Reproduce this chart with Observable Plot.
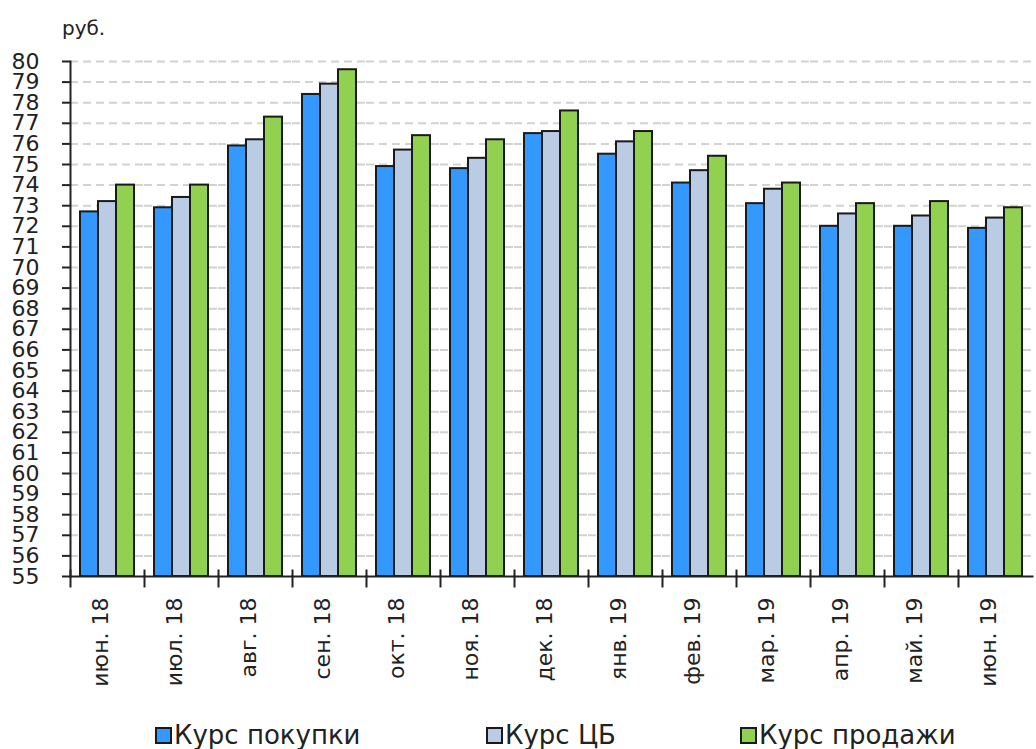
<!DOCTYPE html>
<html>
<head>
<meta charset="utf-8">
<script src="https://cdn.jsdelivr.net/npm/d3@7"></script>
<script src="https://cdn.jsdelivr.net/npm/@observablehq/plot@0.6"></script>
<style>
  html, body { margin: 0; padding: 0; background: #fff; }
  body { width: 1036px; height: 749px; overflow: hidden; font-family: "DejaVu Sans", sans-serif; color: #222; }
  #unit { height: 40px; box-sizing: border-box; padding: 17px 0 0 62px; font-size: 20px; line-height: 22px; }
  #chart svg { display: block; }
  #legend { height: 49px; box-sizing: border-box; padding-top: 20px; display: flex; font-size: 26px; line-height: 30px; }
  .item { display: flex; align-items: center; }
  .sw { width: 13px; height: 13px; border: 2px solid #1a1a1a; margin-right: 2px; }
</style>
</head>
<body>
<div id="unit">руб.</div>
<div id="chart"></div>
<div id="legend"></div>
<script>
const months = ["июн. 18", "июл. 18", "авг. 18", "сен. 18", "окт. 18", "ноя. 18", "дек. 18", "янв. 19", "фев. 19", "мар. 19", "апр. 19", "май. 19", "июн. 19"];
const seriesNames = ["Курс покупки", "Курс ЦБ", "Курс продажи"];
const buyRate  = [72.7, 72.9, 75.9, 78.4, 74.9, 74.8, 76.5, 75.5, 74.1, 73.1, 72.0, 72.0, 71.9];
const cbRate   = [73.2, 73.4, 76.2, 78.9, 75.7, 75.3, 76.6, 76.1, 74.7, 73.8, 72.6, 72.5, 72.4];
const sellRate = [74.0, 74.0, 77.3, 79.6, 76.4, 76.2, 77.6, 76.6, 75.4, 74.1, 73.1, 73.2, 72.9];
const yTicks = d3.range(55, 81);
const colors = ["#3399ff", "#b9cce4", "#92d050"];

const seriesValues = [buyRate, cbRate, sellRate];
const data = months.flatMap((m, i) => seriesNames.map((s, j) => ({month: m, series: s, value: seriesValues[j][i]})));

const vTick = { draw(context) { context.moveTo(0, -7); context.lineTo(0, 11); } };

const chart = Plot.plot({
  width: 1036,
  height: 660,
  marginTop: 21,
  marginLeft: 65,
  marginRight: 0,
  marginBottom: 124,
  style: { fontFamily: '"DejaVu Sans", sans-serif', fontSize: "22px", color: "#222", background: "#fff", overflow: "visible" },
  fx: { domain: months, padding: 0, label: null },
  x: { domain: seriesNames, paddingInner: 0, paddingOuter: 0.46, axis: null },
  y: { domain: [yTicks[0], yTicks[yTicks.length - 1]], label: null },
  color: { domain: seriesNames, range: colors },
  marks: [
    Plot.gridY(yTicks.slice(1), { stroke: "#d2d2d2", strokeOpacity: 1, strokeWidth: 2, strokeDasharray: "8,5" }),
    Plot.barY(data, { fx: "month", x: "series", y1: yTicks[0], y2: "value", fill: "series", stroke: "#1a1a1a", strokeWidth: 2 }),
    Plot.frame({ anchor: "bottom", stroke: "#222", strokeWidth: 2 }),
    Plot.frame({ anchor: "left", facetAnchor: "left", stroke: "#222", strokeWidth: 2 }),
    Plot.dot([0], { x: null, y: null, frameAnchor: "bottom-left", symbol: vTick, stroke: "#222", strokeWidth: 2, fill: "none" }),
    Plot.axisY(yTicks, { text: null, tickSize: 8, label: null, stroke: "#222", strokeWidth: 2 }),
    Plot.axisY(yTicks, { tickSize: 0, tickPadding: 31, label: null, fontSize: 22 }),
    Plot.axisFx({ anchor: "bottom", tickSize: 0, tickRotate: -90, tickPadding: 21, dx: -7, label: null, fontSize: 22 })
  ]
});
document.getElementById("chart").appendChild(chart);

const legend = document.getElementById("legend");
const legendLeft = [155, 486, 740];
seriesNames.forEach((s, i) => {
  const item = document.createElement("div");
  item.className = "item";
  item.style.position = "absolute";
  item.style.left = legendLeft[i] + "px";
  const sw = document.createElement("div");
  sw.className = "sw";
  sw.style.background = colors[i];
  const t = document.createElement("span");
  t.textContent = s;
  item.appendChild(sw);
  item.appendChild(t);
  legend.appendChild(item);
});
</script>
</body>
</html>
